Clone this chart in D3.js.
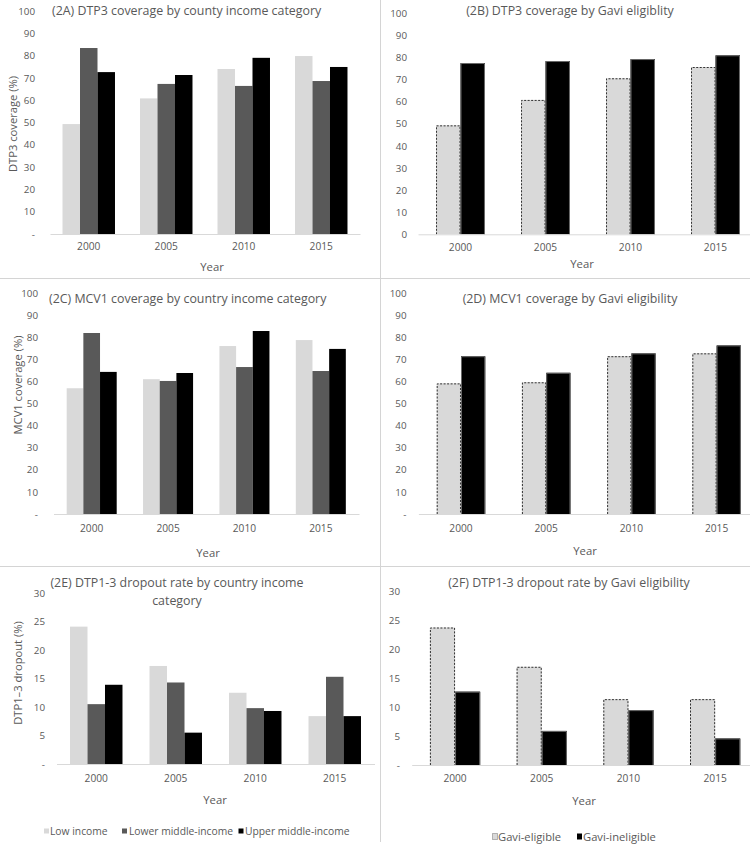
<!DOCTYPE html>
<html>
<head>
<meta charset="utf-8">
<script src="https://cdn.jsdelivr.net/npm/d3@7"></script>
<style>
  html, body { margin: 0; padding: 0; background: #fff; }
  svg { display: block; }
  text { font-family: "Open Sans", "Noto Sans", sans-serif; fill: #595959; }
</style>
</head>
<body>
<svg id="chart" width="750" height="848"></svg>
<script>
// ---------- data ----------
const years = ["2000", "2005", "2010", "2015"];
const incomeSeries = ["Low income", "Lower middle-income", "Upper middle-income"];
const gaviSeries = ["Gavi-eligible", "Gavi-ineligible"];

const dtp3Low       = [49.3, 60.8, 74.0, 79.8];
const dtp3LowerMid  = [83.4, 67.3, 66.4, 68.6];
const dtp3UpperMid  = [72.6, 71.3, 79.0, 74.9];
const dtp3GaviElig  = [49.3, 60.8, 70.6, 75.7];
const dtp3GaviInel  = [77.5, 78.4, 79.3, 81.0];

const mcv1Low       = [56.9, 61.0, 76.0, 78.7];
const mcv1LowerMid  = [81.9, 60.2, 66.5, 64.7];
const mcv1UpperMid  = [64.3, 63.8, 82.8, 74.7];
const mcv1GaviElig  = [59.1, 59.6, 71.4, 72.7];
const mcv1GaviInel  = [71.4, 63.9, 72.7, 76.3];

const dropLow       = [24.1, 17.2, 12.5, 8.4];
const dropLowerMid  = [10.5, 14.3, 9.8, 15.3];
const dropUpperMid  = [13.9, 5.5, 9.3, 8.4];
const dropGaviElig  = [23.8, 17.0, 11.4, 11.4];
const dropGaviInel  = [12.7, 5.9, 9.5, 4.6];

const coverageTicks = [0, 10, 20, 30, 40, 50, 60, 70, 80, 90, 100];
const dropoutTicks  = [0, 5, 10, 15, 20, 25, 30];

// ---------- styles ----------
const FONT = '"Open Sans", "Noto Sans", sans-serif';
const incomeColors = ["#d9d9d9", "#595959", "#000000"];
const gaviColors = ["#d9d9d9", "#000000"];

const svg = d3.select("#chart");

// panel separators
const sep = svg.append("g").attr("stroke", "#d4d4d4").attr("stroke-width", 1);
sep.append("line").attr("x1", 0).attr("x2", 750).attr("y1", 278.5).attr("y2", 278.5);
sep.append("line").attr("x1", 0).attr("x2", 750).attr("y1", 566.5).attr("y2", 566.5);
sep.append("line").attr("x1", 380.5).attr("x2", 380.5).attr("y1", 0).attr("y2", 842);

function panel(cfg) {
  const g = svg.append("g");
  const y = d3.scaleLinear().domain(cfg.domain).range(cfg.yRange);
  const x0 = d3.scaleBand().domain(years).range(cfg.xRange)
    .paddingInner(cfg.pad).paddingOuter(cfg.pad / 2);
  const x1 = d3.scaleBand().domain(cfg.series).range([0, x0.bandwidth()]);

  // y tick labels
  const ya = g.append("g").attr("transform", `translate(${cfg.labelRight},0)`)
    .call(d3.axisLeft(y).tickValues(cfg.ticks).tickSize(0).tickPadding(0)
      .tickFormat(d => d === 0 ? cfg.zeroLabel : d));
  ya.select(".domain").remove();
  ya.selectAll("text").style("font-size", "9.8px").attr("fill", "#595959")
    .style("font-family", FONT);

  // bars
  const rows = years.map((yr, i) => ({ yr, vals: cfg.values.map(v => v[i]) }));
  const grp = g.selectAll(".grp").data(rows).join("g")
    .attr("transform", d => `translate(${x0(d.yr)},0)`);
  grp.selectAll("rect").data(d => d.vals.map((v, k) => ({ v, k })))
    .join("rect")
    .attr("x", d => x1(cfg.series[d.k]))
    .attr("width", x1.bandwidth())
    .attr("y", d => y(d.v))
    .attr("height", d => y(0) - y(d.v))
    .attr("fill", d => cfg.colors[d.k]);

  if (cfg.gavi) {
    // dashed outline for eligible, grey outline for ineligible
    grp.selectAll("path.outline").data(d => d.vals.map((v, k) => ({ v, k })))
      .join("path")
      .attr("class", "outline")
      .attr("fill", "none")
      .attr("stroke", d => d.k === 0 ? "#333" : "#6b6b6b")
      .attr("stroke-width", 1)
      .attr("stroke-dasharray", d => d.k === 0 ? "2,1.5" : null)
      .attr("d", d => {
        const xl = x1(cfg.series[d.k]) + 0.5, xr = xl + x1.bandwidth() - 1;
        const yt = y(d.v) + 0.5, yb = y(0);
        return `M${xl},${yb}V${yt}H${xr}V${yb}`;
      });
  }

  // x axis
  const xa = g.append("g").attr("transform", `translate(0,${y(0)})`)
    .call(d3.axisBottom(x0).tickSize(0).tickSizeOuter(0).tickPadding(cfg.xPad));
  xa.select(".domain").attr("stroke", "#d9d9d9");
  xa.selectAll("text").style("font-size", "10.2px").attr("fill", "#595959")
    .style("font-family", FONT);

  // axis titles
  g.append("text").attr("x", cfg.yearX).attr("y", cfg.yearY)
    .attr("text-anchor", "middle").attr("dominant-baseline", "central")
    .style("font-size", "11.3px").text("Year");
  if (cfg.yTitle) {
    g.append("text")
      .attr("transform", `translate(${cfg.yTitleX},${cfg.yTitleY}) rotate(-90)`)
      .attr("text-anchor", "middle").attr("dominant-baseline", "central")
      .style("font-size", "11.2px").text(cfg.yTitle);
  }
  // title
  cfg.title.forEach((t, i) => {
    g.append("text").attr("x", cfg.titleX).attr("y", cfg.titleY + i * 17.5)
      .attr("text-anchor", cfg.titleAnchor).attr("dominant-baseline", "central")
      .style("font-size", "12.4px").text(t);
  });
}

panel({
  series: incomeSeries, colors: incomeColors,
  values: [dtp3Low, dtp3LowerMid, dtp3UpperMid],
  domain: [0, 100], ticks: coverageTicks, zeroLabel: "-",
  xRange: [50, 360], yRange: [234, 11], pad: 0.323, labelRight: 35, xPad: 9,
  yearX: 212, yearY: 266, yTitle: "DTP3 coverage (%)", yTitleX: 12, yTitleY: 124,
  title: ["(2A) DTP3 coverage by county income category"], titleX: 52, titleY: 10, titleAnchor: "start"
});

panel({
  series: gaviSeries, colors: gaviColors, gavi: true,
  values: [dtp3GaviElig, dtp3GaviInel],
  domain: [0, 100], ticks: coverageTicks, zeroLabel: "0",
  xRange: [418, 758], yRange: [234.3, 13.3], pad: 0.424, labelRight: 407, xPad: 9,
  yearX: 582, yearY: 263,
  title: ["(2B) DTP3 coverage by Gavi eligiblity"], titleX: 570, titleY: 10, titleAnchor: "middle"
});

panel({
  series: incomeSeries, colors: incomeColors,
  values: [mcv1Low, mcv1LowerMid, mcv1UpperMid],
  domain: [0, 100], ticks: coverageTicks, zeroLabel: "-",
  xRange: [53.5, 359], yRange: [514, 293], pad: 0.345, labelRight: 38, xPad: 11,
  yearX: 208, yearY: 552, yTitle: "MCV1 coverage (%)", yTitleX: 17, yTitleY: 385,
  title: ["(2C) MCV1 coverage by country income category"], titleX: 49, titleY: 298, titleAnchor: "start"
});

panel({
  series: gaviSeries, colors: gaviColors, gavi: true,
  values: [mcv1GaviElig, mcv1GaviInel],
  domain: [0, 100], ticks: coverageTicks, zeroLabel: "-",
  xRange: [418.4, 759.2], yRange: [514, 293], pad: 0.43, labelRight: 406.5, xPad: 11,
  yearX: 585, yearY: 550,
  title: ["(2D) MCV1 coverage by Gavi eligibility"], titleX: 570, titleY: 298, titleAnchor: "middle"
});

panel({
  series: incomeSeries, colors: incomeColors,
  values: [dropLow, dropLowerMid, dropUpperMid],
  domain: [0, 30], ticks: dropoutTicks, zeroLabel: "-",
  xRange: [56.5, 374.5], yRange: [764, 593], pad: 0.34, labelRight: 45, xPad: 11,
  yearX: 215, yearY: 799, yTitle: "DTP1\u20133 dropout (%)", yTitleX: 17, yTitleY: 673,
  title: ["(2E) DTP1-3 dropout rate by country income", "category"], titleX: 177, titleY: 582.5, titleAnchor: "middle"
});

panel({
  series: gaviSeries, colors: gaviColors, gavi: true,
  values: [dropGaviElig, dropGaviInel],
  domain: [0, 30], ticks: dropoutTicks, zeroLabel: "-",
  xRange: [411.7, 758.5], yRange: [765, 591.7], pad: 0.42, labelRight: 400, xPad: 10,
  yearX: 584, yearY: 800,
  title: ["(2F) DTP1-3 dropout  rate by Gavi eligibility"], titleX: 569, titleY: 582.5, titleAnchor: "middle"
});

// ---------- legends ----------
const legE = svg.append("g").attr("transform", "translate(0,831)");
const legEPos = [[44, 50], [122, 129], [238.5, 245]];
incomeSeries.forEach((s, i) => {
  legE.append("rect").attr("x", legEPos[i][0]).attr("y", -2.5).attr("width", 5).attr("height", 5)
    .attr("fill", incomeColors[i]);
  legE.append("text").attr("x", legEPos[i][1]).attr("y", 0).attr("dominant-baseline", "central")
    .style("font-size", "10.3px").text(s);
});

const legF = svg.append("g").attr("transform", "translate(0,836)");
const legFPos = [[492.5, 498], [577, 583]];
gaviSeries.forEach((s, i) => {
  legF.append("rect").attr("x", legFPos[i][0]).attr("y", -2.5).attr("width", 5).attr("height", 6)
    .attr("fill", gaviColors[i])
    .attr("stroke", i === 0 ? "#555" : "none").attr("stroke-width", 0.8)
    .attr("stroke-dasharray", i === 0 ? "1,1" : null);
  legF.append("text").attr("x", legFPos[i][1]).attr("y", 0).attr("dominant-baseline", "central")
    .style("font-size", "11.2px").text(s);
});
</script>
</body>
</html>
